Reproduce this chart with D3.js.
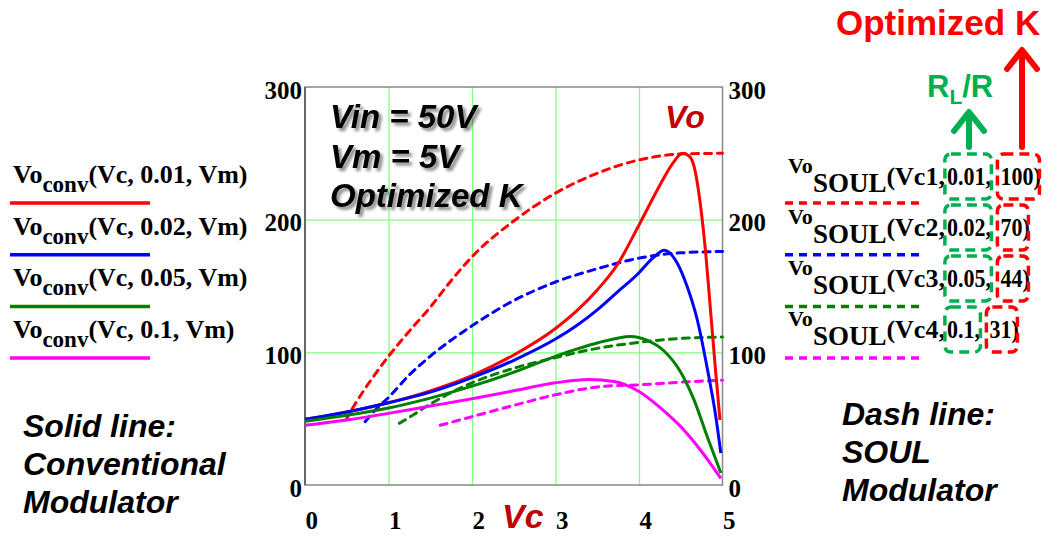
<!DOCTYPE html>
<html><head><meta charset="utf-8">
<script src="https://cdn.jsdelivr.net/npm/d3@7"></script>
<style>body{margin:0;background:#fff} svg{display:block}</style>
</head><body><svg id="c" width="1048" height="536"></svg>
<script>
// ---------- data ----------
const xTicks = [0, 1, 2, 3, 4, 5];
const yTicks = [0, 100, 200, 300];
// conventional modulator (solid), [Vc, Vo]
const conv001 = [[0,49.5],[0.5,55],[1,62],[1.5,71],[2,82.5],[2.5,98],[3,118],[3.25,131],[3.5,147],[3.75,167],[4,196],[4.25,226],[4.4,242],[4.52,250],[4.6,248],[4.66,240],[4.74,209],[4.8,174],[4.86,129],[4.92,84],[4.97,49]];
const conv002 = [[0,49.5],[0.5,55],[1,62],[1.5,70],[2,81],[2.5,94],[3,110],[3.25,120],[3.5,132],[3.75,146],[4,160],[4.1,167],[4.2,173],[4.3,177],[4.46,167],[4.58,149],[4.7,124],[4.82,87],[4.92,51.5],[4.98,24]];
const conv005 = [[0,48],[0.5,52.5],[1,58],[1.5,65.5],[2,74.5],[2.5,85],[3,97],[3.5,107],[3.9,112],[4.1,109],[4.3,101],[4.5,85],[4.66,64],[4.82,36],[4.98,9]];
const conv01  = [[0,45],[0.5,49],[1,54],[1.5,59.5],[2,65],[2.5,71],[3,77],[3.4,79.5],[3.7,78],[4,70.5],[4.26,58],[4.5,44],[4.74,26],[4.98,5]];
// SOUL modulator (dashed), [Vc, Vo]
const soul001 = [[0.49,49],[0.6,61],[0.8,80],[1,97],[1.25,116],[1.5,134],[1.75,154],[2,172],[2.5,199],[3,220],[3.5,235],[4,245],[4.5,249.5],[5,250]];
const soul002 = [[0.72,47.7],[0.85,57],[1,66],[1.25,83],[1.5,97],[2,120],[2.5,139],[3,153],[3.5,163],[4,171],[4.5,175],[5,176]];
const soul005 = [[1.13,46.5],[1.3,53],[1.5,61],[2,77],[2.5,88],[3,96],[3.5,103],[4,107.5],[4.5,110.5],[5,111.5]];
const soul01  = [[1.62,45],[2,51.5],[2.5,60],[3,68],[3.4,73],[3.6,74.5],[4,75.5],[4.5,77.5],[5,79]];
const ratioLabels = ["0.01", "0.02", "0.05", "0.1"];
const optimizedK = ["100", "70", "44", "31"];
const soulArgs = ["Vc1", "Vc2", "Vc3", "Vc4"];

// ---------- styles ----------
const colors = ["#ff0000", "#0000ff", "#008000", "#ff00ff"];
const convSeries = [conv001, conv002, conv005, conv01];
const soulSeries = [soul001, soul002, soul005, soul01];
const SERIF = "'Liberation Serif','Times New Roman',serif";
const SANS = "'Liberation Sans',Arial,sans-serif";
const GREEN = "#00b050";
const DARKRED = "#c00000";

const svg = d3.select("#c");
const defs = svg.append("defs");
const f = defs.append("filter").attr("id","sh").attr("x","-10%").attr("y","-20%").attr("width","130%").attr("height","160%");
f.append("feDropShadow").attr("dx",3).attr("dy",3).attr("stdDeviation",1.6).attr("flood-color","#000").attr("flood-opacity",0.45);

const L = 305, R = 722.5, T = 87, B = 485;
const x = d3.scaleLinear().domain([0,5]).range([L,R]);
const y = d3.scaleLinear().domain([0,300]).range([B,T]);

// grid
svg.append("g").attr("transform",`translate(0,${B})`)
  .call(d3.axisBottom(x).tickValues(xTicks.slice(1,-1)).tickSize(-(B-T)).tickFormat(""))
  .call(g=>g.select(".domain").remove())
  .call(g=>g.selectAll("line").attr("stroke","#80ff80").attr("stroke-width",1.3));
svg.append("g").attr("transform",`translate(${L},0)`)
  .call(d3.axisLeft(y).tickValues(yTicks.slice(1,-1)).tickSize(-(R-L)).tickFormat(""))
  .call(g=>g.select(".domain").remove())
  .call(g=>g.selectAll("line").attr("stroke","#80ff80").attr("stroke-width",1.3));

// frame
svg.append("rect").attr("x",L).attr("y",T).attr("width",R-L).attr("height",B-T)
  .attr("fill","none").attr("stroke","#888").attr("stroke-width",1.5);
svg.append("line").attr("x1",L).attr("x2",L).attr("y1",T).attr("y2",B).attr("stroke","#555").attr("stroke-width",1.5);

// tick labels
const lab = {"font-family":SERIF,"font-weight":"bold","font-size":"25px","fill":"#000"};
function styl(sel, o){ for (const k in o) sel.attr(k,o[k]); return sel; }
const fmt = d3.format("d");
svg.append("g").attr("transform",`translate(${L},0)`)
  .call(d3.axisLeft(y).tickValues(yTicks).tickFormat(fmt).tickSize(0).tickPadding(3))
  .call(g=>g.select(".domain").remove())
  .call(g=>{ styl(g.selectAll("text"),lab).attr("dy","0.45em"); g.attr("font-family",null).attr("font-size",null);});
svg.append("g").attr("transform",`translate(${R},0)`)
  .call(d3.axisRight(y).tickValues(yTicks).tickFormat(fmt).tickSize(0).tickPadding(6))
  .call(g=>g.select(".domain").remove())
  .call(g=>{ styl(g.selectAll("text"),lab).attr("dy","0.45em"); g.attr("font-family",null).attr("font-size",null);});
svg.append("g").attr("transform",`translate(0,${B})`)
  .call(d3.axisBottom(x).tickValues(xTicks).tickFormat(fmt).tickSize(0).tickPadding(0))
  .call(g=>g.select(".domain").remove())
  .call(g=>{ styl(g.selectAll("text"),lab).attr("text-anchor","start").attr("y",44).attr("dy",0); g.attr("font-family",null).attr("font-size",null);});

// curves
const line = d3.line().x(d=>x(d[0])).y(d=>y(d[1])).curve(d3.curveMonotoneX);
const plot = svg.append("g");
soulSeries.forEach((s,i)=>{
  plot.append("path").attr("d",line(s)).attr("fill","none").attr("stroke",colors[i])
    .attr("stroke-width",3).attr("stroke-dasharray","7,6").attr("stroke-linecap","round");
});
convSeries.forEach((s,i)=>{
  plot.append("path").attr("d",line(s)).attr("fill","none").attr("stroke",colors[i])
    .attr("stroke-width",3).attr("stroke-linejoin","round");
});

// annotations in plot
const ann = svg.append("g").attr("filter","url(#sh)")
  .attr("font-family",SANS).attr("font-weight","bold").attr("font-style","italic").attr("font-size","33px");
["Vin = 50V","Vm = 5V","Optimized K"].forEach((t,i)=>{
  ann.append("text").attr("x",330).attr("y",128+i*39.5).text(t);
});
svg.append("text").attr("x",665).attr("y",128).attr("font-family",SANS).attr("font-weight","bold")
  .attr("font-style","italic").attr("font-size","32px").attr("fill",DARKRED).text("Vo");
svg.append("text").attr("x",502).attr("y",528).attr("font-family",SANS).attr("font-weight","bold")
  .attr("font-style","italic").attr("font-size","34px").attr("fill",DARKRED).text("Vc");

// left legend
const ll = svg.append("g").attr("font-family",SERIF).attr("font-weight","bold");
ratioLabels.forEach((r,i)=>{
  const by = 183 + i*51.5;
  const t = ll.append("text").attr("x",13).attr("y",by).attr("font-size","26px");
  t.append("tspan").text("Vo");
  t.append("tspan").attr("dy",9).attr("font-size","23px").text("conv");
  t.append("tspan").attr("dy",-9).text(`(Vc, ${r}, Vm)`);
  ll.append("line").attr("x1",10).attr("x2",150).attr("y1",203+i*51.7).attr("y2",203+i*51.7)
    .attr("stroke",colors[i]).attr("stroke-width",3.5);
});

// right legend
const rl = svg.append("g").attr("font-family",SERIF).attr("font-weight","bold");
const measure = (txt, size) => {
  const t = rl.append("text").attr("font-size",size+"px").text(txt);
  const w = t.node().getComputedTextLength(); t.remove(); return w;
};
// narrow text: width of the small size, drawn taller and squeezed to that width
const narrow = (xx, yy, txt, small, big) => {
  const w = measure(txt, small);
  rl.append("text").attr("x",xx).attr("y",yy).attr("font-size",big+"px").text(txt)
    .attr("textLength",w).attr("lengthAdjust","spacingAndGlyphs");
  return w;
};
ratioLabels.forEach((r,i)=>{
  const by = 185 + i*51;
  const t = rl.append("text").attr("x",788).attr("y",by).attr("font-size","26px");
  t.append("tspan").attr("dy",-12).attr("font-size","22px").text("Vo");
  t.append("tspan").attr("dy",19).attr("font-size","27px").text("SOUL");
  t.append("tspan").attr("dy",-7).text(`(${soulArgs[i]},`);
  const w = t.node().getComputedTextLength();
  const vx = 788 + w + 2;
  const vw = measure(r, 22);
  narrow(vx, by, r + ",", 22, 26);
  const kx = vx + vw + 15;
  const kw = measure(optimizedK[i], 22);
  narrow(kx, by, optimizedK[i] + ")", 22, 26);
  rl.append("rect").attr("x",vx-2).attr("y",by-31).attr("width",vw+8).attr("height",45).attr("rx",6)
    .attr("fill","none").attr("stroke",GREEN).attr("stroke-width",3.5).attr("stroke-dasharray","10,6");
  rl.append("rect").attr("x",kx-3).attr("y",by-31).attr("width",kw+9).attr("height",45).attr("rx",6)
    .attr("fill","none").attr("stroke","#ff0000").attr("stroke-width",3.5).attr("stroke-dasharray","10,6");
  rl.append("line").attr("x1",785).attr("x2",925).attr("y1",203+i*51.7).attr("y2",203+i*51.7)
    .attr("stroke",colors[i]).attr("stroke-width",3.5).attr("stroke-dasharray","8,6");
});

// arrows & labels top right
const arrow = (ax, y0, y1, col) => {
  svg.append("line").attr("x1",ax).attr("x2",ax).attr("y1",y0).attr("y2",y1+2)
    .attr("stroke",col).attr("stroke-width",6).attr("stroke-linecap","round");
  svg.append("polyline").attr("points",`${ax-15},${y1+19} ${ax},${y1} ${ax+15},${y1+19}`)
    .attr("fill","none").attr("stroke",col).attr("stroke-width",6).attr("stroke-linecap","round").attr("stroke-linejoin","round");
};
arrow(969, 147, 112, GREEN);
arrow(1022, 147, 50, "#ff0000");
const rlr = svg.append("text").attr("x",927).attr("y",97).attr("font-family",SANS).attr("font-weight","bold")
  .attr("font-size","31px").attr("fill",GREEN);
rlr.append("tspan").text("R");
rlr.append("tspan").attr("dy",7).attr("font-size","21px").text("L");
rlr.append("tspan").attr("dy",-7).text("/R");
svg.append("text").attr("x",836).attr("y",35).attr("font-family",SANS).attr("font-weight","bold")
  .attr("font-size","35px").attr("fill","#ff0000").text("Optimized K");

// side notes
const note = (lines, x0, y0) => {
  const g = svg.append("g").attr("font-family",SANS).attr("font-weight","bold").attr("font-style","italic").attr("font-size","32px");
  lines.forEach((t,i)=> g.append("text").attr("x",x0).attr("y",y0+i*38).text(t));
};
note(["Solid line:","Conventional","Modulator"], 23, 437);
note(["Dash line:","SOUL","Modulator"], 842, 425);
</script></body></html>
